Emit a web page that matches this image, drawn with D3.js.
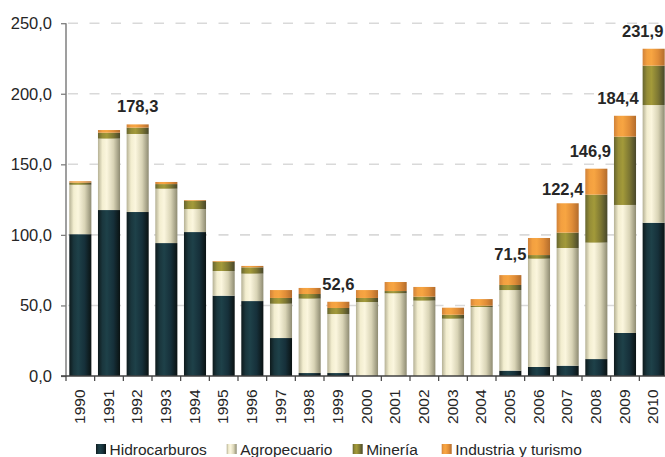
<!DOCTYPE html>
<html><head><meta charset="utf-8">
<script src="https://cdn.jsdelivr.net/npm/d3@7"></script>
<style>body{margin:0;background:#fff}svg{display:block}</style>
</head><body><svg id="c" width="665" height="457"></svg>
<script>
const years = ["1990","1991","1992","1993","1994","1995","1996","1997","1998","1999","2000","2001","2002","2003","2004","2005","2006","2007","2008","2009","2010"];
const hidrocarburos = [100.5,117.6,116.2,94.2,102.0,56.9,53.1,26.9,2.1,2.1,0,0,0,0,0,3.8,6.4,7.3,12.0,30.5,108.6];
const agropecuario  = [35.0,50.6,55.3,38.5,16.3,17.5,19.4,24.3,52.7,41.8,52.4,58.6,53.4,40.6,48.9,57.1,76.7,83.4,82.5,90.7,83.4];
const mineria       = [1.5,4.2,4.5,3.3,5.9,6.6,4.5,4.1,3.3,4.3,2.9,1.6,2.8,2.8,0.9,3.6,2.6,10.9,34.0,48.4,27.9];
const industria     = [1.0,1.9,2.3,1.5,0.5,0.5,1.0,5.6,4.3,4.4,5.6,6.4,6.9,5.0,4.7,7.0,12.1,20.8,18.4,14.8,12.0];
const seriesNames = ["Hidrocarburos","Agropecuario","Minería","Industria y turismo"];
const labeledYears = ["1992","1999","2005","2007","2008","2009","2010"];
const totalLabels  = ["178,3","52,6","71,5","122,4","146,9","184,4","231,9"];
const yTicks = [0,50,100,150,200,250];

const svg = d3.select("#c");
const font = "'Liberation Sans', Arial, sans-serif";
const defs = svg.append("defs");
const grads = [
  ["#0e1a1c","#1a363d","#1e4149","#16303a","#0a1212"],
  ["#b5b195","#f3eed0","#fbf6de","#d9d4b6","#8e8b72"],
  ["#66652f","#958d37","#a39a3a","#7d7733","#48472a"],
  ["#d0823a","#f3a040","#f7a542","#e08d38","#b36c2c"]
];
grads.forEach((g,i)=>{
  const lg = defs.append("linearGradient").attr("id","g"+i).attr("x1","0").attr("x2","1").attr("y1","0").attr("y2","0");
  [0,0.2,0.4,0.7,1].forEach((o,j)=>lg.append("stop").attr("offset",o).attr("stop-color",g[j]));
});

const x = d3.scaleBand().domain(years).range([66,668]).paddingInner(0.23).paddingOuter(0.115);
const y = d3.scaleLinear().domain([0,250]).range([376,23.2]);

// gridlines
svg.append("g").selectAll("line").data(yTicks.filter(d=>d>0)).join("line")
  .attr("x1",68).attr("x2",665).attr("y1",d=>y(d)).attr("y2",d=>y(d))
  .attr("stroke","#d9d9d9").attr("stroke-width",1.6).attr("stroke-dasharray","10,11.5");

const rows = years.map((yr,i)=>({year:yr,Hidrocarburos:hidrocarburos[i],Agropecuario:agropecuario[i],"Minería":mineria[i],"Industria y turismo":industria[i]}));
const stack = d3.stack().keys(seriesNames)(rows);
svg.append("g").selectAll("g").data(stack).join("g").attr("fill",(d,i)=>`url(#g${i})`)
  .selectAll("rect").data(d=>d).join("rect")
  .attr("x",d=>x(d.data.year)).attr("width",x.bandwidth())
  .attr("y",d=>y(d[1])).attr("height",d=>Math.max(0,y(d[0])-y(d[1])));

// y axis
const ya = svg.append("g").attr("transform","translate(66,0)")
  .call(d3.axisLeft(y).tickValues(yTicks).tickSize(5).tickPadding(9).tickFormat(d=>d.toFixed(1).replace(".",",")));
ya.select(".domain").attr("stroke","#7f7f7f").attr("stroke-width",1.5).attr("d","M0,23.2V376");
ya.selectAll(".tick line").attr("stroke","#7f7f7f").attr("stroke-width",1.3);
ya.selectAll("text").attr("font-family",font).attr("font-size","16.5px").attr("fill","#262626");

// x axis
svg.append("line").attr("x1",61).attr("x2",665).attr("y1",376).attr("y2",376).attr("stroke","#404040").attr("stroke-width",1.5);
const step = x.step();
svg.append("g").selectAll("line").data(years).join("line")
  .attr("x1",d=>x(d)-step*x.paddingInner()/2).attr("x2",d=>x(d)-step*x.paddingInner()/2)
  .attr("y1",376).attr("y2",381).attr("stroke","#404040").attr("stroke-width",1.2);
svg.append("g").selectAll("text").data(years).join("text")
  .attr("transform",d=>`translate(${x(d)+x.bandwidth()/2+4.8},${389.5}) rotate(-90)`)
  .attr("text-anchor","end").attr("font-family",font).attr("font-size","15.5px").attr("fill","#262626")
  .text(d=>d);

// total labels
const totals = years.map((yr,i)=>hidrocarburos[i]+agropecuario[i]+mineria[i]+industria[i]);
const shift = {"2007":-5,"2008":-6,"2009":-7,"2010":-11};
svg.append("g").selectAll("text").data(labeledYears).join("text")
  .attr("x",d=>x(d)+x.bandwidth()/2+(shift[d]||0))
  .attr("y",(d,i)=>y(totals[years.indexOf(d)])-(d==="2005"?15:(d==="2007"?8:12)))
  .attr("text-anchor","middle").attr("font-family",font).attr("font-weight","bold")
  .attr("font-size","16.5px").attr("fill","#262626").text((d,i)=>totalLabels[i]);

// legend
const legX = [96,226.7,352.7,441.7];
const lg = svg.append("g").selectAll("g").data(seriesNames).join("g")
  .attr("transform",(d,i)=>`translate(${legX[i]},444)`);
lg.append("rect").attr("width",10).attr("height",10).attr("fill",(d,i)=>`url(#g${i})`);
lg.append("text").attr("x",13.5).attr("y",10.5).attr("font-family",font).attr("font-size","15.5px").attr("fill","#262626").text(d=>d);
</script></body></html>
